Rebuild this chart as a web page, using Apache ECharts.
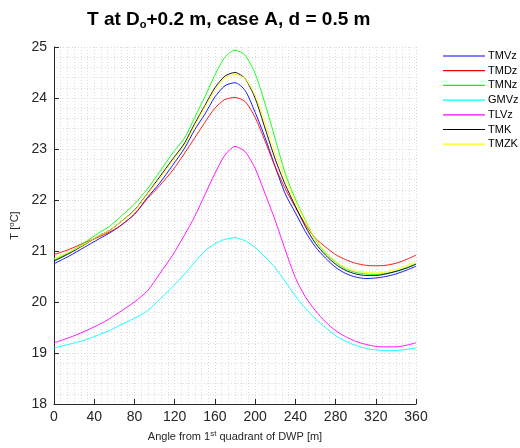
<!DOCTYPE html>
<html><head><meta charset="utf-8">
<script src="https://cdn.jsdelivr.net/npm/echarts@6/dist/echarts.min.js"></script>
<style>html,body{margin:0;padding:0;background:#fff}#c{width:520px;height:448px}</style>
</head><body><div id="c"></div>
<script>
const angles = [0,15,30,45,55,65,80,93,105,118,130,140,150,160,170,180,190,200,210,220,230,240,250,260,270,280,290,300,310,320,330,340,350,360];
const TMVz = [20.75,20.90,21.07,21.24,21.35,21.48,21.72,22.05,22.33,22.68,23.02,23.38,23.68,24.02,24.24,24.30,24.15,23.72,23.22,22.65,22.12,21.75,21.38,21.08,20.86,20.68,20.56,20.49,20.46,20.47,20.50,20.55,20.62,20.70];
const TMDz = [20.93,21.03,21.16,21.28,21.37,21.48,21.72,22.03,22.28,22.58,22.92,23.22,23.52,23.80,23.97,24.01,23.93,23.62,23.15,22.65,22.22,21.86,21.52,21.25,21.08,20.93,20.83,20.76,20.72,20.71,20.72,20.76,20.83,20.92];
const TMNz = [20.82,20.97,21.16,21.36,21.48,21.65,21.92,22.22,22.55,22.92,23.22,23.62,24.02,24.45,24.80,24.94,24.84,24.48,23.88,23.20,22.52,22.02,21.60,21.22,20.96,20.78,20.65,20.58,20.55,20.54,20.56,20.60,20.67,20.75];
const GMVz = [19.10,19.17,19.25,19.36,19.44,19.54,19.68,19.83,20.05,20.30,20.55,20.78,21.00,21.14,21.23,21.26,21.20,21.07,20.88,20.67,20.40,20.12,19.88,19.67,19.50,19.34,19.23,19.15,19.09,19.06,19.05,19.05,19.07,19.10];
const TLVz = [19.20,19.30,19.42,19.56,19.67,19.80,20.00,20.22,20.55,20.92,21.32,21.68,22.10,22.52,22.88,23.05,22.95,22.62,22.12,21.60,21.02,20.48,20.10,19.83,19.61,19.44,19.32,19.23,19.17,19.13,19.12,19.12,19.15,19.20];
const TMK = [20.80,20.95,21.12,21.30,21.40,21.55,21.80,22.13,22.45,22.80,23.12,23.50,23.85,24.20,24.43,24.50,24.38,24.00,23.40,22.80,22.30,21.88,21.48,21.15,20.92,20.74,20.62,20.55,20.52,20.52,20.55,20.60,20.66,20.74];
const TMZK = [20.85,20.98,21.13,21.30,21.40,21.55,21.79,22.12,22.42,22.77,23.08,23.46,23.82,24.15,24.39,24.46,24.38,24.05,23.50,22.92,22.42,21.98,21.58,21.24,20.98,20.80,20.68,20.61,20.58,20.57,20.59,20.64,20.71,20.78];
const xTicks = {min:0, max:360, interval:40};
const yTicks = {min:18, max:25, interval:1};

const seriesDefs = [
  ['TMVz', TMVz, '#0000ff'],
  ['TMDz', TMDz, '#ff0000'],
  ['TMNz', TMNz, '#00ff00'],
  ['GMVz', GMVz, '#00ffff'],
  ['TLVz', TLVz, '#ff00ff'],
  ['TMK', TMK, '#000000'],
  ['TMZK', TMZK, '#ffff00']
];
const axisCol = '#262626';
const chart = echarts.init(document.getElementById('c'), null, {renderer:'canvas'});
chart.setOption({
  animation:false,
  backgroundColor:'#fff',
  title:{
    text:'T at D{sub|o}+0.2 m, case A, d = 0.5 m',
    left:82, top:5,
    textStyle:{fontFamily:'Liberation Sans, Arial, sans-serif', fontSize:19, fontWeight:'bold', color:'#000',
      rich:{sub:{fontFamily:'Liberation Sans, Arial, sans-serif', fontSize:11, fontWeight:'bold', color:'#000', verticalAlign:'bottom', padding:[9,0,0,0]}}}
  },
  legend:{
    orient:'vertical', left:443, top:50, padding:0,
    icon:'rect', itemWidth:42, itemHeight:1.2, itemGap:2.7,
    textStyle:{fontFamily:'Liberation Sans, Arial, sans-serif', fontSize:11, color:'#000', lineHeight:12, padding:[0,0,0,-2]},
    data: seriesDefs.map(s=>s[0])
  },
  grid:{left:51, right:104, top:47, bottom:44, containLabel:false},
  xAxis:{
    type:'value', min:xTicks.min, max:xTicks.max, interval:xTicks.interval,
    name:'Angle from 1{sup|st} quadrant of DWP [m]', nameLocation:'middle', nameGap:26,
    nameTextStyle:{fontFamily:'Liberation Sans, Arial, sans-serif', fontSize:11, color:axisCol,
      rich:{sup:{fontSize:8, color:axisCol, verticalAlign:'top', padding:[0,0,6,0]}}},
    axisLine:{show:true, onZero:false, lineStyle:{color:axisCol, width:1}},
    axisTick:{show:true, inside:true, length:5, lineStyle:{color:axisCol}},
    axisLabel:{fontFamily:'Liberation Sans, Arial, sans-serif', fontSize:14, color:axisCol, margin:6},
    splitLine:{show:true, lineStyle:{color:'#d8d8d8', type:[1,2], width:1}},
    minorTick:{show:false, splitNumber:6},
    minorSplitLine:{show:true, lineStyle:{color:'#dcdcdc', type:[1,2], width:1}}
  },
  yAxis:{
    type:'value', min:yTicks.min, max:yTicks.max, interval:yTicks.interval,
    name:'T [{sup|o}C]', nameLocation:'middle', nameGap:27, nameRotate:90,
    nameTextStyle:{fontFamily:'Liberation Sans, Arial, sans-serif', fontSize:11, color:axisCol,
      rich:{sup:{fontSize:8, color:axisCol, verticalAlign:'top', padding:[0,0,6,0]}}},
    axisLine:{show:true, onZero:false, lineStyle:{color:axisCol, width:1}},
    axisTick:{show:true, inside:true, length:5, lineStyle:{color:axisCol}},
    axisLabel:{fontFamily:'Liberation Sans, Arial, sans-serif', fontSize:14, color:axisCol, margin:7},
    splitLine:{show:true, lineStyle:{color:'#d8d8d8', type:[1,2], width:1}},
    minorTick:{show:false, splitNumber:5},
    minorSplitLine:{show:true, lineStyle:{color:'#dcdcdc', type:[1,2], width:1}}
  },
  series: seriesDefs.map(([name, vals, col]) => ({
    name, type:'line', symbol:'none', smooth:0.25,
    data: angles.map((a,i)=>[a, vals[i]]),
    lineStyle:{color:col, width:0.9},
    itemStyle:{color:col},
    emphasis:{disabled:true}
  }))
});
</script></body></html>
